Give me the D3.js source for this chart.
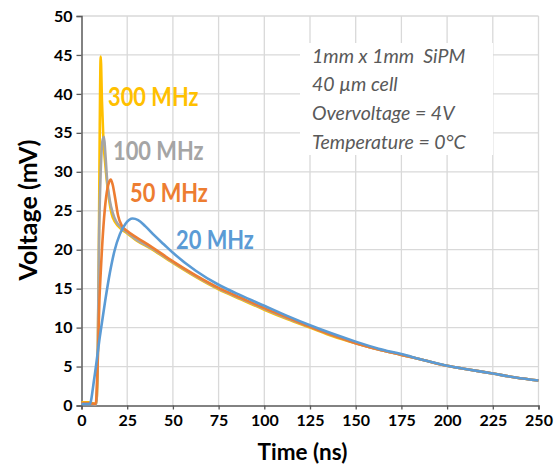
<!DOCTYPE html>
<html>
<head>
<meta charset="utf-8">
<script src="https://cdn.jsdelivr.net/npm/d3@7"></script>
<style>
  html, body { margin: 0; padding: 0; background: #fff; }
  svg { display: block; }
</style>
</head>
<body>
<svg id="chart" width="559" height="468"></svg>
<script>
// ---- data ----
const xTicks = [0, 25, 50, 75, 100, 125, 150, 175, 200, 225, 250];
const yTicks = [0, 5, 10, 15, 20, 25, 30, 35, 40, 45, 50];

const t300 = [0, 4, 8, 8.8, 9.5, 10.0, 10.5, 11.2, 12, 13, 14, 15, 16.5, 18.5, 22, 25, 30, 37.5, 50, 62.5, 75, 87.5, 100, 112.5, 125, 137.5, 150, 162.5, 175, 187.5, 200, 212.5, 225, 237.5, 250];
const v300 = [0.4, 0.4, 0.2, 4, 20, 36, 44.8, 39, 34, 31, 28.5, 26.6, 24.6, 23.5, 22.6, 22.1, 21.2, 20.2, 18.3, 16.5, 14.9, 13.6, 12.3, 11.1, 10.0, 8.9, 8.0, 7.2, 6.5, 5.8, 5.1, 4.6, 4.1, 3.6, 3.2];

const t100 = [0, 4, 8, 8.8, 9.5, 10.5, 11.5, 12.3, 13, 14, 15.5, 17, 19, 22, 25, 30, 37.5, 50, 62.5, 75, 87.5, 100, 112.5, 125, 137.5, 150, 162.5, 175, 187.5, 200, 212.5, 225, 237.5, 250];
const v100 = [0.2, 0.2, 0.1, 5, 20, 30, 34, 34.5, 32.5, 29, 26.3, 24.8, 23.6, 22.8, 22.2, 21.3, 20.3, 18.4, 16.6, 15.0, 13.7, 12.4, 11.2, 10.1, 9.0, 8.0, 7.2, 6.5, 5.8, 5.1, 4.6, 4.1, 3.6, 3.2];

const t50 = [0, 4, 7.8, 8.8, 9.8, 10.5, 12, 13.5, 15, 16, 17, 18.5, 20, 22, 25, 30, 37.5, 50, 62.5, 75, 87.5, 100, 112.5, 125, 137.5, 150, 162.5, 175, 187.5, 200, 212.5, 225, 237.5, 250];
const v50 = [0.3, 0.3, 0.2, 5, 13.5, 17, 23, 26.8, 28.6, 29, 28.4, 26.5, 24.4, 23.1, 22.4, 21.6, 20.5, 18.5, 16.7, 15.1, 13.8, 12.5, 11.3, 10.1, 9.0, 8.0, 7.2, 6.5, 5.8, 5.1, 4.6, 4.1, 3.6, 3.2];

const t20 = [0, 4.5, 7, 10, 13, 15.5, 18, 21, 24, 28, 31, 35, 40, 45, 50, 62.5, 75, 87.5, 100, 112.5, 125, 137.5, 150, 162.5, 175, 187.5, 200, 212.5, 225, 237.5, 250];
const v20 = [0.2, 0.2, 3.5, 8.8, 13.5, 17, 19.8, 22, 23.3, 24, 23.8, 23, 21.8, 20.7, 19.6, 17.3, 15.5, 14.1, 12.8, 11.5, 10.3, 9.2, 8.2, 7.3, 6.6, 5.8, 5.1, 4.6, 4.1, 3.6, 3.2];

const seriesNames = ["300 MHz", "100 MHz", "50 MHz", "20 MHz"];
const seriesColors = ["#FFC000", "#A5A5A5", "#ED7D31", "#5B9BD5"];
const noteLines = ["1mm x 1mm  SiPM", "40 µm cell", "Overvoltage = 4V", "Temperature = 0°C"];

// ---- layout ----
const svg = d3.select("#chart");
const x = d3.scaleLinear().domain([0, 250]).range([81.5, 538.5]);
const y = d3.scaleLinear().domain([0, 50]).range([405.5, 16]);
const font = "Lato, 'Open Sans', sans-serif";

// gridlines
svg.append("g").selectAll("line").data(yTicks.filter(d => d > 0)).join("line")
  .attr("x1", x(0)).attr("x2", x(250))
  .attr("y1", d => y(d)).attr("y2", d => y(d))
  .attr("stroke", "#d9d9d9").attr("stroke-width", 1.3);
svg.append("g").selectAll("line").data(xTicks.filter(d => d > 0)).join("line")
  .attr("x1", d => x(d)).attr("x2", d => x(d))
  .attr("y1", y(0)).attr("y2", y(50))
  .attr("stroke", "#d9d9d9").attr("stroke-width", 1.3);

// note background box (hides gridlines)
svg.append("rect").attr("x", 300).attr("y", 43).attr("width", 193).attr("height", 112).attr("fill", "#fff");

// axes
const yAxis = svg.append("g").attr("transform", `translate(${x(0)},0)`)
  .call(d3.axisLeft(y).tickValues(yTicks).tickSize(5).tickPadding(4));
const xAxis = svg.append("g").attr("transform", `translate(0,${y(0)})`)
  .call(d3.axisBottom(x).tickValues(xTicks).tickSize(4).tickPadding(5));
[yAxis, xAxis].forEach(a => {
  a.select(".domain").attr("stroke", "#595959").attr("stroke-width", 1.5);
  a.selectAll(".tick line").attr("stroke", "#595959").attr("stroke-width", 1.3);
  a.selectAll(".tick text").attr("fill", "#000").attr("font-family", font)
    .attr("font-weight", "bold").attr("font-size", 16);
});

// lines
const series = [
  { t: t300, v: v300 },
  { t: t100, v: v100 },
  { t: t50, v: v50 },
  { t: t20, v: v20 }
];
const line = d3.line().x(d => x(d[0])).y(d => y(d[1])).curve(d3.curveMonotoneX);
series.forEach((s, i) => {
  const pts = s.t.map((t, k) => [t, s.v[k]]);
  svg.append("path").datum(pts).attr("d", line)
    .attr("fill", "none").attr("stroke", seriesColors[i])
    .attr("stroke-width", 2.6).attr("stroke-linejoin", "round");
});

// series labels (slightly condensed to mimic the narrow original face)
const labelPos = [[108, 106], [113, 160], [130, 202], [176, 249]];
seriesNames.forEach((n, i) => {
  svg.append("text")
    .attr("transform", `translate(${labelPos[i][0]},${labelPos[i][1]}) scale(0.84,1)`)
    .attr("font-family", font).attr("font-weight", "bold")
    .attr("font-size", 26).attr("fill", seriesColors[i]).text(n);
});

// note text
noteLines.forEach((s, i) => {
  svg.append("text").attr("x", 312).attr("y", 62.5 + i * 28.7)
    .attr("font-family", font).attr("font-style", "italic")
    .attr("font-size", 19.5).attr("fill", "#595959")
    .style("white-space", "pre").text(s);
});

// axis titles
svg.append("text").attr("x", 302.5).attr("y", 460).attr("text-anchor", "middle")
  .attr("font-family", font).attr("font-weight", "bold").attr("font-size", 22.5)
  .attr("fill", "#000").text("Time (ns)");
svg.append("text").attr("transform", "translate(37,210) rotate(-90)").attr("text-anchor", "middle")
  .attr("font-family", font).attr("font-weight", "bold").attr("font-size", 25)
  .attr("fill", "#000").text("Voltage (mV)");
</script>
</body>
</html>
